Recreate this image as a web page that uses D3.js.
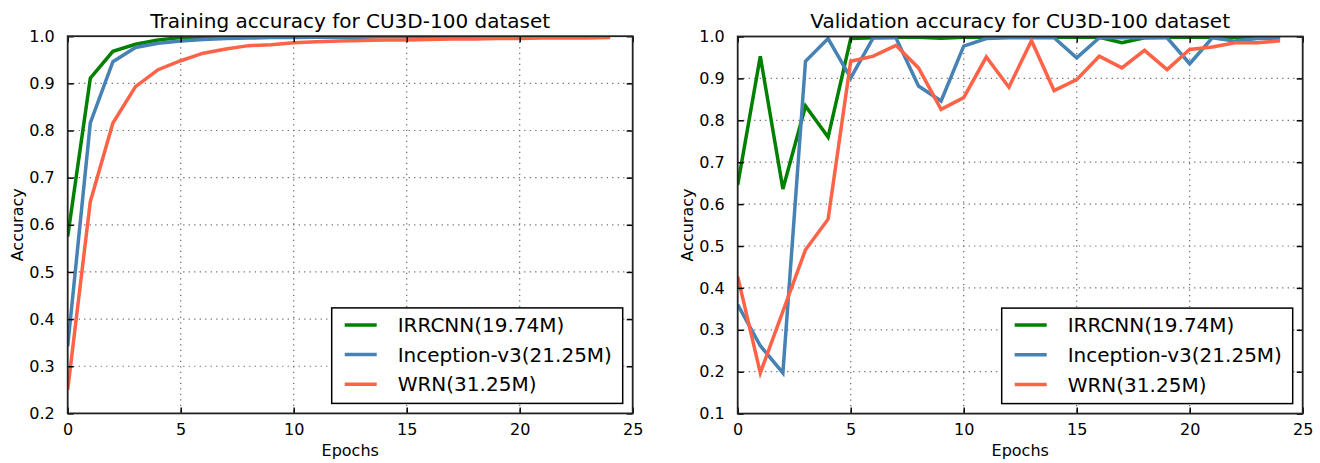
<!DOCTYPE html>
<html><head><meta charset="utf-8">
<script src="https://cdn.jsdelivr.net/npm/d3@7"></script>
<style>body{margin:0;background:#fff}svg{display:block}text{font-family:"DejaVu Sans",sans-serif;fill:#000}</style>
</head><body><svg id="c" width="1320" height="463"></svg>
<script>
const epochs = [0,1,2,3,4,5,6,7,8,9,10,11,12,13,14,15,16,17,18,19,20,21,22,23,24];
const seriesNames = ["IRRCNN(19.74M)","Inception-v3(21.25M)","WRN(31.25M)"];
const seriesColors = ["#008000","#4682b4","#ff6347"];

const trainIRRCNN   = [0.575,0.911,0.968,0.983,0.992,0.997,0.998,0.999,0.999,1.0,1.0,1.0,1.0,1.0,1.0,1.0,1.0,1.0,1.0,1.0,1.0,1.0,1.0,1.0,1.0];
const trainInception= [0.342,0.816,0.946,0.976,0.985,0.990,0.993,0.995,0.996,0.997,0.997,0.998,0.998,0.998,0.999,0.999,0.999,0.999,0.999,0.999,0.999,1.0,1.0,1.0,1.0];
const trainWRN      = [0.25,0.649,0.816,0.893,0.929,0.948,0.964,0.973,0.980,0.982,0.986,0.988,0.990,0.991,0.992,0.992,0.993,0.994,0.994,0.995,0.995,0.996,0.996,0.996,0.997];

const valIRRCNN   = [0.646,0.953,0.636,0.834,0.760,0.995,0.997,0.998,0.998,0.996,0.998,0.998,0.998,0.998,0.998,0.998,0.998,0.985,0.997,0.998,0.998,0.998,0.998,0.998,0.998];
const valInception= [0.36,0.262,0.197,0.941,0.995,0.901,0.997,0.997,0.882,0.846,0.977,0.995,0.997,0.997,0.997,0.949,0.997,0.997,0.997,0.997,0.935,0.997,0.989,0.995,0.995];
const valWRN      = [0.427,0.197,0.344,0.491,0.564,0.941,0.953,0.979,0.925,0.826,0.854,0.951,0.879,0.990,0.871,0.897,0.953,0.925,0.967,0.921,0.969,0.975,0.985,0.985,0.99];

const xTicks = [0,5,10,15,20,25];
const yTicksTrain = [0.2,0.3,0.4,0.5,0.6,0.7,0.8,0.9,1.0];
const yTicksVal = [0.1,0.2,0.3,0.4,0.5,0.6,0.7,0.8,0.9,1.0];

const svg = d3.select("#c");
svg.append("rect").attr("width",1320).attr("height",463).attr("fill","#fff");

function panel(opts){
  const {x0,x1,y0,y1,yDomain,yTicks,title,data,id,ylabX} = opts;
  const x = d3.scaleLinear().domain([0,25]).range([x0,x1]);
  const y = d3.scaleLinear().domain(yDomain).range([y1,y0]);
  const g = svg.append("g");
  // grid
  g.selectAll(".gx").data(xTicks.filter(t=>t>0&&t<25)).enter().append("line")
    .attr("x1",d=>x(d)).attr("x2",d=>x(d)).attr("y1",y0).attr("y2",y1)
    .attr("stroke","#666").attr("stroke-width",1.2).attr("stroke-dasharray","1.2,4.3");
  g.selectAll(".gy").data(yTicks.filter(t=>t>yDomain[0]&&t<yDomain[1])).enter().append("line")
    .attr("y1",d=>y(d)).attr("y2",d=>y(d)).attr("x1",x0).attr("x2",x1)
    .attr("stroke","#666").attr("stroke-width",1.2).attr("stroke-dasharray","1.2,4.3");
  // clip
  svg.append("clipPath").attr("id",id).append("rect").attr("x",x0).attr("y",y0).attr("width",x1-x0).attr("height",y1-y0);
  const line = d3.line().x((d,i)=>x(epochs[i])).y(d=>y(d));
  const lg = g.append("g").attr("clip-path",`url(#${id})`);
  data.forEach((s,k)=>{
    lg.append("path").datum(s).attr("d",line).attr("fill","none")
      .attr("stroke",seriesColors[k]).attr("stroke-width",3.5).attr("stroke-linejoin","miter");
  });
  // axes with inward ticks
  const tl = 6;
  const bottom = g.append("g").attr("transform",`translate(0,${y1})`)
    .call(d3.axisBottom(x).tickValues(xTicks).tickSize(-tl).tickPadding(10).tickFormat(d3.format("d")));
  const top = g.append("g").attr("transform",`translate(0,${y0})`)
    .call(d3.axisTop(x).tickValues(xTicks).tickSize(-tl).tickFormat(""));
  const left = g.append("g").attr("transform",`translate(${x0},0)`)
    .call(d3.axisLeft(y).tickValues(yTicks).tickSize(-tl).tickPadding(13).tickFormat(d3.format(".1f")));
  const right = g.append("g").attr("transform",`translate(${x1},0)`)
    .call(d3.axisRight(y).tickValues(yTicks).tickSize(-tl).tickFormat(""));
  [bottom,top,left,right].forEach(a=>{
    a.select(".domain").remove();
    a.selectAll(".tick line").attr("stroke","#000").attr("stroke-width",1.5);
    a.selectAll("text").attr("font-size",16).attr("font-family","DejaVu Sans").attr("fill","#000");
  });
  // frame
  g.append("rect").attr("x",x0).attr("y",y0).attr("width",x1-x0).attr("height",y1-y0)
    .attr("fill","none").attr("stroke","#222").attr("stroke-width",1.8);
  // title
  g.append("text").attr("x",(x0+x1)/2).attr("y",28).attr("text-anchor","middle").attr("font-size",20).text(title);
  g.append("text").attr("x",(x0+x1)/2).attr("y",456).attr("text-anchor","middle").attr("font-size",16).text("Epochs");
  g.append("text").attr("transform",`translate(${ylabX},${(y0+y1)/2}) rotate(-90)`).attr("text-anchor","middle").attr("font-size",16).text("Accuracy");
  // legend
  const lx = x1-10-291, ly = y1-10-95.5;
  const leg = g.append("g");
  leg.append("rect").attr("x",lx).attr("y",ly).attr("width",291).attr("height",95.5)
    .attr("fill","#fff").attr("stroke","#000").attr("stroke-width",1.5);
  seriesNames.forEach((n,k)=>{
    const yy = ly+17+k*29.7;
    leg.append("line").attr("x1",lx+13).attr("x2",lx+45).attr("y1",yy).attr("y2",yy)
      .attr("stroke",seriesColors[k]).attr("stroke-width",3.5);
    leg.append("text").attr("x",lx+66).attr("y",yy+7).attr("font-size",20).text(n);
  });
}

panel({x0:67.7,x1:632.7,y0:36.2,y1:413.4,yDomain:[0.2,1.0],yTicks:yTicksTrain,
  title:"Training accuracy for CU3D-100 dataset",data:[trainIRRCNN,trainInception,trainWRN],id:"c1",ylabX:23});
panel({x0:737.7,x1:1302.7,y0:36.5,y1:413.6,yDomain:[0.1,1.0],yTicks:yTicksVal,
  title:"Validation accuracy for CU3D-100 dataset",data:[valIRRCNN,valInception,valWRN],id:"c2",ylabX:693});
</script></body></html>
